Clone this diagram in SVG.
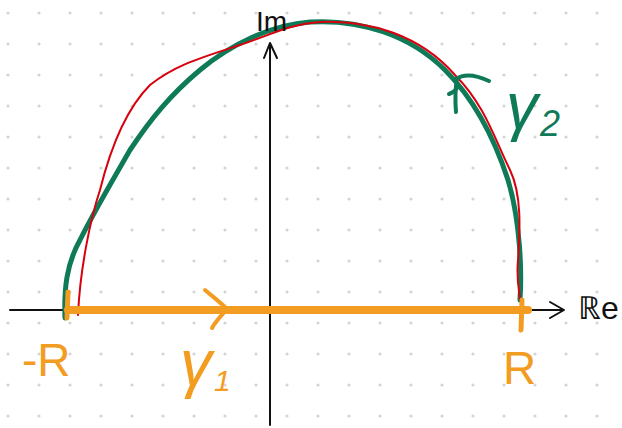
<svg xmlns="http://www.w3.org/2000/svg" width="622" height="428" viewBox="0 0 622 428">
<defs>
<pattern id="dots" x="0" y="0" width="31" height="31" patternUnits="userSpaceOnUse">
<circle cx="8" cy="13" r="1.6" fill="#d4d4d4"/>
</pattern>
<style>
.axis{stroke:#111;stroke-width:2;fill:none;stroke-linecap:round;stroke-linejoin:round}
.orange{stroke:#f39c22;fill:none;stroke-linecap:round;stroke-linejoin:round}
.green{stroke:#0f7a58;fill:none;stroke-linecap:round;stroke-linejoin:round}
.red{stroke:#d9000d;fill:none;stroke-width:2;stroke-linecap:round}
.lbl{font-family:"Liberation Sans",Arial,sans-serif}
</style>
</defs>
<rect width="622" height="428" fill="#fff"/>
<rect width="622" height="428" fill="url(#dots)"/>
<g id="axes">
<path class="axis" d="M10 310 L563 310"/>
<path class="axis" d="M550 302 L564 310 L550 318"/>
<path class="axis" d="M270 425 L270 44"/>
<path class="axis" d="M264 58 L270 43 L277 58"/>
</g>
<g id="connectors">
<path id="gamma2-green" class="green" stroke-width="5" d="M65 318 C64 290 66 265 80 240 C95 210 110 185 130 150 C150 120 170 95 200 70 C230 45 270 25 310 22 C360 19 410 35 445 70 C475 100 495 140 508 180 C520 220 522 270 520 300"/>
<path id="gamma2-red" class="red" d="M78 315 C80 270 90 220 100 190 C110 150 125 110 150 85 C175 65 200 58 240 45 C270 35 290 24 320 22 C370 20 420 35 455 75 C485 105 495 140 510 170 C522 195 520 230 518 260 C516 280 520 295 520 300"/>
<path id="gamma1" class="orange" stroke-width="8" d="M68 310 L528 310"/>
<path class="orange" stroke-width="5" d="M68 292 L67 318"/>
<path class="orange" stroke-width="5" d="M522 300 L521 330"/>
<path class="orange" stroke-width="4" d="M205 290 C212 296 220 302 227 309 C222 315 215 322 212 328"/>
<path class="green" stroke-width="4" d="M456 79 C463 74 474 74 489 81"/>
<path class="green" stroke-width="4" d="M457 79 C455 90 455 100 456 112"/>
<path class="green" stroke-width="4" d="M449 94 C452 93 455 91 457 88"/>
</g>
<g id="labels">
<text class="lbl" x="256" y="31" font-size="28" fill="#111">Im</text>
<text class="lbl" x="578" y="319" font-size="32" fill="#111">ℝe</text>
<text class="lbl" x="22" y="376" font-size="46" fill="#f39c22">-R</text>
<text class="lbl" x="503" y="384" font-size="46" fill="#f39c22">R</text>
<text class="lbl" x="180" y="385" font-size="64" fill="#f39c22" font-style="italic">γ<tspan font-size="30" dx="2" dy="6">1</tspan></text>
<text class="lbl" x="506" y="128" font-size="64" fill="#0f7a58" font-style="italic">γ<tspan font-size="36" dx="2" dy="8">2</tspan></text>
</g>
</svg>
